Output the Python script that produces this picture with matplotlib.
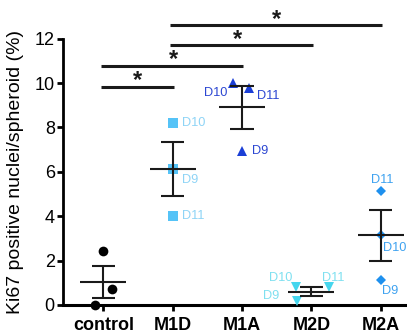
import numpy as np
import matplotlib
matplotlib.use("Agg")
import matplotlib.pyplot as plt

plt.rcParams["font.family"] = ["Liberation Sans", "DejaVu Sans"]

# Data
groups = ["control", "M1D", "M1A", "M2D", "M2A"]
control_vals = [0.0, 2.43, 0.72]
m1d_vals = [8.2, 6.13, 4.0]      # D10, D9, D11
m1a_vals = [10.0, 9.77, 6.94]    # D10, D11, D9
m2d_vals = [0.8, 0.8, 0.2]       # D10, D11, D9
m2a_vals = [5.13, 3.15, 1.13]    # D11, D10, D9

m1d_labels = ["D10", "D9", "D11"]
m1a_labels = ["D10", "D11", "D9"]
m2d_labels = ["D10", "D11", "D9"]
m2a_labels = ["D11", "D10", "D9"]

# significance brackets: (start group, end group, height)
sig_pairs = [(0, 1, 9.82), (0, 2, 10.77), (1, 3, 11.7), (1, 4, 12.6)]

fig = plt.figure(figsize=(4.07, 3.35), dpi=100)
ax = fig.add_axes([0.155, 0.0896, 0.845, 0.9104])
ax.set_xlim(-0.58, 4.38)
ax.set_ylim(0, 13.74)

series = [
    (0, control_vals, [-0.12, 0.0, 0.12], "o", "black", None, None, 7),
    (1, m1d_vals, [0, 0, 0], "s", "#55c3f7", m1d_labels, "#8ed4f6", 6.5),
    (2, m1a_vals, [-0.13, 0.1, 0.0], "^", "#1b3fd6", m1a_labels, "#2b46d2", 7),
    (3, m2d_vals, [-0.22, 0.25, -0.2], "v", "#45d6ee", m2d_labels, "#7fe0f0", 7),
    (4, m2a_vals, [0, 0, 0], "D", "#1e90ee", m2a_labels, "#3ea2f0", 5.5),
]

# label offsets in points (dx, dy, ha)
label_offsets = {
    1: [(7, 0, "left"), (7, -8, "left"), (7, 0, "left")],
    2: [(-4, -7, "right"), (6, -6, "left"), (7, 0, "left")],
    3: [(-11, 7, "center"), (3, 7, "center"), (-13, 3, "right")],
    4: [(1, 8, "center"), (2, -9, "left"), (1, -8, "left")],
}

for xi, vals, offs, mk, col, labs, lcol, ms in series:
    vals = np.array(vals)
    xs = xi + np.array(offs)
    ax.plot(xs, vals, linestyle="none", marker=mk, color=col,
            markersize=ms, markeredgewidth=0, clip_on=False, zorder=3)
    mean = vals.mean()
    sem = vals.std(ddof=1) / np.sqrt(len(vals))
    ax.hlines(mean, xi - 0.33, xi + 0.33, color="#1a1a1a", lw=1.5, zorder=4)
    ax.hlines([mean - sem, mean + sem], xi - 0.17, xi + 0.17,
              color="#1a1a1a", lw=1.5, zorder=4)
    ax.vlines(xi, mean - sem, mean + sem, color="#1a1a1a", lw=1.5, zorder=4)
    if labs:
        for x, y, lab, (dx, dy, ha) in zip(xs, vals, labs, label_offsets[xi]):
            ax.annotate(lab, (x, y), xytext=(dx, dy), textcoords="offset points",
                        ha=ha, va="center", fontsize=9.2, color=lcol)

for a, b, h in sig_pairs:
    ax.plot([a - 0.04, b + 0.02], [h, h], color="#1a1a1a", lw=2.2,
            clip_on=False, solid_capstyle="butt")
star_pos = [(0.49, 10.1), (1.01, 11.08), (1.94, 11.98), (2.5, 12.88)]
for sx, sy in star_pos:
    ax.text(sx, sy, "*", ha="center", va="center", fontsize=17,
            fontweight="bold", color="#1a1a1a")

for s in ["top", "right"]:
    ax.spines[s].set_visible(False)
ax.spines["left"].set_bounds(0, 12)
ax.spines["left"].set_linewidth(2)
ax.spines["bottom"].set_linewidth(2.2)

ax.set_yticks(range(0, 13, 2))
ax.set_xticks(range(len(groups)))
ax.set_xticklabels(groups, fontsize=13, fontweight="bold")
ax.tick_params(axis="y", labelsize=13, width=2, length=4, pad=2)
ax.tick_params(axis="x", width=2, length=4, pad=5)
ax.set_ylabel("Ki67 positive nuclei/spheroid (%)", fontsize=14)
ax.yaxis.set_label_coords(-0.115, 6 / 13.74)

fig.savefig("out.png", dpi=100)
